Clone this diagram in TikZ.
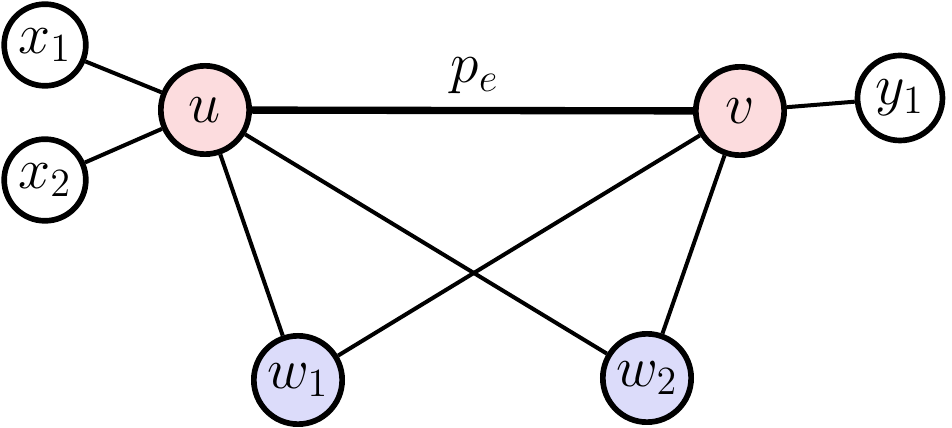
\documentclass[tikz,border=0pt]{standalone}
\usepackage{tikz}
\definecolor{endpink}{RGB}{252,220,222}
\definecolor{midblue}{RGB}{220,220,250}

\begin{document}
\begin{tikzpicture}[x=0.3pt, y=-0.3pt,
  vert/.style={circle, draw, line width=1.7pt, inner sep=0pt, minimum size=24.5pt, font=\LARGE},
  bigvert/.style={vert, minimum size=26.5pt},
  edge/.style={line width=1.2pt}]
\useasboundingbox (0,0) rectangle (952,428);
\node[vert] (x1) at (45,45) {\(x_1\)};
\node[vert] (x2) at (45,180) {\(x_2\)};
\node[vert, minimum size=25.5pt] (y1) at (900,98) {\(y_1\)};
\node[bigvert, fill=endpink] (u) at (205,110) {\(u\)};
\node[bigvert, fill=endpink] (v) at (740,111) {\(v\)};
\node[bigvert, fill=midblue] (w1) at (298,380) {\(w_1\)};
\node[bigvert, fill=midblue] (w2) at (647,378) {\(w_2\)};
\node[font=\LARGE] (pe) at (475,76) {\(p_e\)};
\foreach \a/\b in {x1/u, x2/u, v/y1, u/w1, u/w2, v/w1, v/w2}
  \draw[edge] (\a) -- (\b);
\draw[line width=2.2pt] (u) -- (v);
\end{tikzpicture}
\end{document}
